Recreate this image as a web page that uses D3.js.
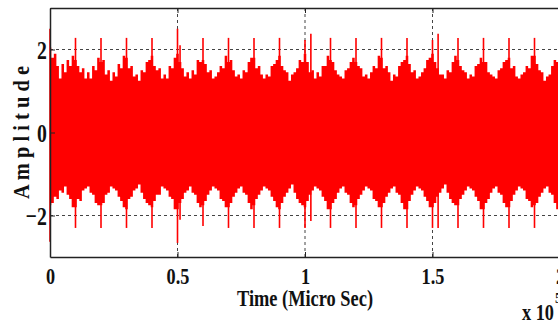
<!DOCTYPE html>
<html>
<head>
<meta charset="utf-8">
<script src="https://cdn.jsdelivr.net/npm/d3@7"></script>
<style>
  html, body { margin: 0; padding: 0; background: #fff; overflow: hidden; }
  svg { display: block; }
  text { font-family: "Liberation Serif", "Times New Roman", serif; font-weight: bold; fill: #111; }
</style>
</head>
<body>
<svg id="chart" width="558" height="320"></svg>
<script>
// time in units of 10^5 micro sec, one envelope sample every 0.01
const sampleStep = 0.01;

// upper envelope of the signal, read per 0.01 step (one row = 0.1)
const upperEnv = [
  2.05, 1.8, 1.9, 1.6, 1.3, 1.65, 1.45, 1.75, 1.6, 1.85,
  1.75, 1.6, 1.45, 1.55, 1.3, 1.45, 1.3, 1.6, 1.5, 1.8,
  1.7, 1.75, 1.4, 1.5, 1.25, 1.45, 1.35, 1.65, 1.55, 1.85,
  1.8, 1.55, 1.6, 1.35, 1.4, 1.25, 1.5, 1.45, 1.7, 1.75,
  1.85, 1.6, 1.5, 1.55, 1.3, 1.4, 1.3, 1.6, 1.55, 1.8,
  1.9, 1.7, 1.55, 1.35, 1.45, 1.3, 1.5, 1.4, 1.75, 1.7,
  1.75, 1.65, 1.45, 1.5, 1.3, 1.35, 1.45, 1.6, 1.55, 1.85,
  1.7, 1.75, 1.5, 1.35, 1.4, 1.3, 1.5, 1.45, 1.7, 1.8,
  1.8, 1.55, 1.6, 1.4, 1.3, 1.4, 1.35, 1.6, 1.65, 1.75,
  1.85, 1.6, 1.5, 1.45, 1.25, 1.4, 1.45, 1.55, 1.75, 1.7,
  1.9, 1.7, 1.45, 1.5, 1.3, 1.45, 1.35, 1.6, 1.6, 1.85,
  1.75, 1.7, 1.5, 1.4, 1.35, 1.3, 1.5, 1.55, 1.7, 1.8,
  1.7, 1.6, 1.55, 1.35, 1.4, 1.3, 1.45, 1.6, 1.55, 1.85,
  1.8, 1.55, 1.6, 1.45, 1.25, 1.4, 1.35, 1.6, 1.7, 1.75,
  1.85, 1.65, 1.45, 1.5, 1.3, 1.35, 1.45, 1.55, 1.75, 1.8,
  1.9, 1.7, 1.55, 1.4, 1.4, 1.3, 1.5, 1.45, 1.7, 1.85,
  1.75, 1.6, 1.5, 1.45, 1.3, 1.4, 1.35, 1.6, 1.65, 1.8,
  1.7, 1.7, 1.45, 1.4, 1.35, 1.3, 1.5, 1.55, 1.7, 1.75,
  1.8, 1.55, 1.6, 1.35, 1.3, 1.4, 1.45, 1.6, 1.55, 1.85,
  1.85, 1.65, 1.5, 1.45, 1.25, 1.35, 1.4, 1.6, 1.75, 1.7,
  1.85
];

// lower envelope, same steps
const lowerEnv = [
  -1.75, -1.7, -1.55, -1.6, -1.4, -1.45, -1.3, -1.5, -1.6, -1.8,
  -1.8, -1.6, -1.65, -1.4, -1.35, -1.3, -1.45, -1.5, -1.7, -1.75,
  -1.75, -1.7, -1.5, -1.45, -1.3, -1.35, -1.4, -1.55, -1.65, -1.8,
  -1.85, -1.6, -1.55, -1.4, -1.35, -1.25, -1.45, -1.6, -1.7, -1.75,
  -1.8, -1.65, -1.5, -1.5, -1.3, -1.35, -1.4, -1.55, -1.6, -1.85,
  -1.85, -1.7, -1.6, -1.45, -1.4, -1.3, -1.45, -1.5, -1.7, -1.8,
  -1.75, -1.65, -1.5, -1.4, -1.3, -1.35, -1.4, -1.6, -1.65, -1.8,
  -1.8, -1.7, -1.55, -1.45, -1.35, -1.3, -1.45, -1.5, -1.7, -1.85,
  -1.75, -1.6, -1.5, -1.4, -1.3, -1.35, -1.4, -1.55, -1.65, -1.8,
  -1.85, -1.7, -1.55, -1.45, -1.35, -1.25, -1.45, -1.6, -1.7, -1.75,
  -1.8, -1.65, -1.5, -1.4, -1.3, -1.35, -1.4, -1.55, -1.65, -1.85,
  -1.85, -1.7, -1.6, -1.45, -1.35, -1.3, -1.45, -1.5, -1.7, -1.8,
  -1.75, -1.6, -1.5, -1.4, -1.3, -1.35, -1.4, -1.6, -1.65, -1.8,
  -1.8, -1.7, -1.55, -1.45, -1.35, -1.3, -1.45, -1.5, -1.7, -1.85,
  -1.85, -1.65, -1.5, -1.4, -1.3, -1.35, -1.4, -1.55, -1.65, -1.8,
  -1.8, -1.7, -1.55, -1.45, -1.35, -1.25, -1.45, -1.6, -1.7, -1.75,
  -1.75, -1.6, -1.5, -1.4, -1.3, -1.35, -1.4, -1.55, -1.65, -1.85,
  -1.85, -1.7, -1.6, -1.45, -1.35, -1.3, -1.45, -1.5, -1.7, -1.8,
  -1.8, -1.65, -1.5, -1.4, -1.3, -1.35, -1.4, -1.6, -1.65, -1.8,
  -1.75, -1.7, -1.55, -1.45, -1.35, -1.3, -1.45, -1.5, -1.7, -1.85,
  -1.8
];

// periodic spikes
const spikeTimes = [0, 0.1, 0.2, 0.3, 0.4, 0.5, 0.51, 0.6, 0.7, 0.8, 0.9, 1.0, 1.023,
  1.1, 1.2, 1.3, 1.4, 1.5, 1.522, 1.6, 1.7, 1.8, 1.9, 2.0];
const spikeHigh = [2.5, 2.28, 2.28, 2.28, 2.28, 2.5, 2.1, 2.28, 2.28, 2.28, 2.28, 2.23, 2.38,
  2.28, 2.28, 2.28, 2.28, 2.23, 2.38, 2.28, 2.28, 2.28, 2.28, 2.28];
const spikeLow = [-2.63, -2.3, -2.3, -2.3, -2.3, -2.66, -2.1, -2.25, -2.3, -2.3, -2.3, -2.3, -2.13,
  -2.3, -2.3, -2.3, -2.3, -2.3, -2.3, -2.3, -2.3, -2.3, -2.3, -2.3];

const xTicks = [0, 0.5, 1, 1.5, 2];
const yTicks = [-2, 0, 2];
const gridX = [0.5, 1, 1.5];
const gridY = [-2, 2];

const plotLeft = 50, plotRight = 560, plotTop = 8, plotBottom = 257;
const svg = d3.select("#chart");

const x = d3.scaleLinear().domain([0, 2]).range([plotLeft, plotRight]);
const y = d3.scaleLinear().domain([-3, 3]).range([plotBottom, plotTop]);

// grid under the signal
svg.append("g").selectAll("line").data(gridY).enter().append("line")
  .attr("x1", plotLeft).attr("x2", plotRight)
  .attr("y1", d => y(d)).attr("y2", d => y(d))
  .attr("stroke", "#444").attr("stroke-width", 1).attr("stroke-dasharray", "3,3");
svg.append("g").selectAll("line").data(gridX).enter().append("line")
  .attr("x1", d => x(d)).attr("x2", d => x(d))
  .attr("y1", plotTop).attr("y2", plotBottom)
  .attr("stroke", "#444").attr("stroke-width", 1).attr("stroke-dasharray", "3,3");

// signal envelope
const samples = upperEnv.map((u, i) => ({t: i * sampleStep, hi: u, lo: lowerEnv[i]}));
const area = d3.area()
  .x(d => x(d.t))
  .y0(d => y(d.lo))
  .y1(d => y(d.hi))
  .curve(d3.curveStep);
svg.append("path").datum(samples).attr("d", area).attr("fill", "#ff0000");

svg.append("g").selectAll("line").data(spikeTimes).enter().append("line")
  .attr("x1", d => x(d)).attr("x2", d => x(d))
  .attr("y1", (d, i) => y(spikeLow[i])).attr("y2", (d, i) => y(spikeHigh[i]))
  .attr("stroke", "#ff0000").attr("stroke-width", 1.6);

// axes, ticks pointing inward
const sx = 0.76;
const xAxis = svg.append("g").attr("transform", `translate(0,${plotBottom})`)
  .call(d3.axisBottom(x).tickValues(xTicks).tickSize(-5).tickSizeOuter(0).tickFormat(d3.format("")));
xAxis.selectAll("text")
  .attr("y", 27).attr("dy", null)
  .attr("transform", `scale(${sx},1)`)
  .style("font-size", "24px");

const yAxis = svg.append("g").attr("transform", `translate(${plotLeft},0)`)
  .call(d3.axisLeft(y).tickValues(yTicks).tickSize(-5).tickSizeOuter(0).tickFormat(d3.format("d")));
yAxis.selectAll("text")
  .attr("x", -3 / sx).attr("dy", "0.34em")
  .attr("transform", `scale(${sx},1)`)
  .style("font-size", "26px");

svg.append("g").attr("transform", `translate(0,${plotTop})`)
  .call(d3.axisTop(x).tickValues(xTicks).tickSize(-5).tickSizeOuter(0).tickFormat(""));

[xAxis, yAxis].forEach(g => {
  g.attr("font-family", null);
  g.selectAll("text").style("fill", "#111");
});
svg.selectAll(".tick line").attr("stroke", "#222");
svg.selectAll(".domain").attr("stroke", "#222").attr("stroke-width", 1.5);

// labels
svg.append("text")
  .attr("x", x(1)).attr("y", 306)
  .attr("text-anchor", "middle")
  .attr("textLength", 136).attr("lengthAdjust", "spacingAndGlyphs")
  .style("font-size", "24px")
  .text("Time (Micro Sec)");

svg.append("text")
  .attr("transform", `translate(29,${(plotTop + plotBottom) / 2}) rotate(-90)`)
  .attr("text-anchor", "middle")
  .attr("textLength", 133).attr("lengthAdjust", "spacingAndGlyphs")
  .style("font-size", "23px")
  .text("A m p l i t u d e");

svg.append("text").attr("x", 522).attr("y", 320).style("font-size", "23px")
  .attr("textLength", 32).attr("lengthAdjust", "spacingAndGlyphs").text("x 10");
svg.append("text").attr("x", 555).attr("y", 303).style("font-size", "14px").text("5");
</script>
</body>
</html>
